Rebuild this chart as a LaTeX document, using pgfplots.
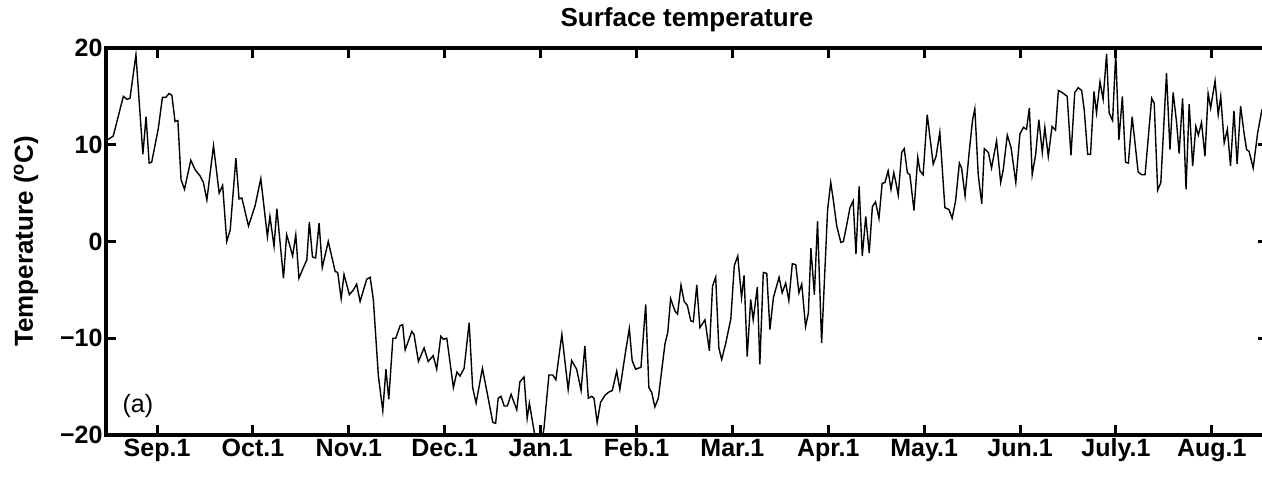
\documentclass[border=0pt]{standalone}
\usepackage{fontspec}
\setmainfont{Liberation Sans}
\usepackage{pgfplots}
\pgfplotsset{compat=1.18}
\usetikzlibrary{calc}
\begin{document}
\begin{tikzpicture}
\begin{axis}[
  scale only axis,
  width=1162pt, height=387pt,
  xmin=-16.2, xmax=352.4, ymin=-20, ymax=20,
  xtick={0,30.417,60.833,91.25,121.667,152.083,182.5,212.917,243.333,273.75,304.167,334.583},
  xticklabels={Sep.1,Oct.1,Nov.1,Dec.1,Jan.1,Feb.1,Mar.1,Apr.1,May.1,Jun.1,July.1,Aug.1},
  ytick={-20,-10,0,10,20},
  yticklabels={−20,−10,0,10,20},
  tick align=inside,
  major tick length=10pt,
  tick style={black, line width=3pt},
  axis line style={line width=3.5pt},
  ticklabel style={font=\bfseries\fontsize{25}{25}\selectfont},
  xticklabel style={text height=18pt, text depth=5pt},
  title={Surface temperature},
  title style={at={(0.5,1)}, anchor=base, yshift=15.5pt, font=\bfseries\fontsize{26}{26}\selectfont},
  ylabel={Temperature (\textsuperscript{o}C)},
  ylabel style={at={(axis description cs:-0.0688,0.5)}, anchor=center, font=\bfseries\fontsize{26}{26}\selectfont},
]
\addplot[black, line width=1.4pt, mark=none] table {
x y
-16.2 10.4
-13.9 10.9
-10.7 15.0
-9.6 14.7
-8.6 14.8
-6.7 19.3
-4.5 9.0
-3.5 12.9
-2.5 8.1
-1.7 8.2
0.4 11.7
1.7 14.9
2.8 14.9
3.8 15.3
4.7 15.1
5.7 12.4
6.6 12.5
7.6 6.4
8.7 5.4
10.7 8.4
12.1 7.4
13.6 6.8
14.7 6.1
15.8 4.3
17.9 9.9
19.7 5.0
20.8 5.8
22.1 0.0
23.2 1.2
25.0 8.6
26.0 4.4
26.9 4.5
29.0 1.6
31.1 3.7
32.9 6.5
35.0 0.5
35.8 2.6
37.1 -0.5
38.0 3.4
40.1 -3.8
41.1 0.7
42.0 -0.3
43.0 -1.5
44.0 0.7
45.0 -3.8
46.4 -2.7
47.5 -1.9
48.3 2.0
49.3 -1.6
50.3 -1.7
51.4 1.9
52.4 -2.7
54.3 0.0
56.5 -3.1
57.3 -3.2
58.4 -5.9
59.3 -3.4
61.0 -5.5
62.3 -5.0
63.3 -4.4
64.4 -6.2
66.5 -3.9
67.6 -3.7
68.6 -6.0
70.2 -13.9
71.6 -17.5
72.6 -13.2
73.5 -16.3
74.8 -10.0
75.7 -10.0
77.1 -8.7
77.9 -8.6
78.7 -11.2
80.8 -9.3
81.5 -9.6
82.9 -12.4
84.7 -11.0
86.0 -12.4
87.6 -11.8
88.7 -13.2
90.0 -9.8
90.8 -10.1
91.9 -10.0
94.0 -15.1
95.1 -13.5
96.1 -13.9
97.4 -13.1
99.0 -8.4
100.1 -15.1
101.2 -16.7
103.2 -13.1
104.8 -15.8
106.5 -18.7
107.4 -18.8
108.2 -16.2
109.1 -16.0
110.1 -17.0
111.1 -17.0
112.3 -15.8
114.1 -17.4
115.1 -14.5
116.4 -14.0
117.4 -18.3
118.1 -16.7
119.7 -19.8
120.8 -21.0
121.8 -21.0
122.7 -19.4
124.3 -13.8
125.5 -13.8
126.5 -14.3
128.4 -9.6
130.4 -15.3
131.5 -12.3
133.1 -13.2
134.5 -15.4
135.7 -10.8
136.8 -16.2
137.9 -16.0
138.6 -16.2
139.6 -18.7
140.7 -16.6
142.1 -15.9
143.1 -15.6
144.4 -15.4
145.8 -13.4
146.8 -15.3
148.7 -11.2
149.8 -9.0
150.7 -12.3
151.8 -13.2
153.5 -13.0
155.0 -6.5
156.0 -15.1
156.9 -15.6
157.9 -17.1
159.0 -16.2
161.1 -10.6
162.0 -9.4
162.9 -5.9
164.3 -7.2
165.1 -7.5
166.2 -4.5
167.2 -6.2
168.2 -6.6
169.3 -8.2
170.1 -8.3
171.2 -4.5
172.2 -8.9
173.8 -8.1
175.2 -11.3
176.2 -4.6
177.2 -3.7
178.2 -11.0
179.1 -12.2
180.4 -10.5
182.0 -8.0
183.1 -2.5
184.2 -1.5
185.4 -5.8
186.2 -3.5
187.2 -11.9
188.3 -6.0
189.1 -8.1
190.4 -4.7
191.2 -12.7
192.3 -3.2
193.4 -3.3
194.4 -9.1
195.5 -5.8
197.3 -3.7
198.3 -5.3
199.4 -4.3
200.4 -6.1
201.5 -2.3
202.6 -2.4
203.6 -5.3
204.5 -4.4
205.7 -8.8
206.6 -7.4
207.4 -0.7
208.5 -5.5
209.5 2.1
210.8 -10.5
212.7 3.3
213.7 6.1
214.5 4.3
215.6 1.6
216.9 -0.1
217.7 0.0
218.7 1.6
219.8 3.5
220.8 4.2
221.7 -1.3
222.7 5.7
223.7 -1.5
224.8 2.6
225.9 -1.2
226.9 3.6
227.9 4.1
229.0 2.4
230.0 6.0
230.9 6.1
231.9 7.3
232.8 5.4
233.7 7.1
234.3 6.2
235.1 4.8
236.2 9.2
237.0 9.6
238.0 7.1
238.8 6.9
240.1 3.2
241.3 8.7
242.0 7.3
243.0 6.9
244.3 13.1
246.2 8.0
247.1 8.8
248.3 11.3
249.9 3.5
251.2 3.3
252.2 2.4
253.3 4.2
254.5 8.1
255.2 7.6
256.3 4.7
257.6 9.2
258.7 12.6
259.4 13.7
260.5 6.8
261.6 3.9
262.4 9.6
263.7 9.2
264.7 7.6
266.3 10.4
267.6 6.1
268.4 7.4
269.7 11.0
270.9 9.7
272.4 6.1
273.7 11.1
274.8 11.8
275.8 11.6
276.7 13.8
277.6 6.9
278.7 9.0
279.7 12.6
280.8 9.2
281.6 11.8
282.7 8.8
283.9 11.9
285.0 11.5
285.9 15.6
287.1 15.4
288.7 15.0
289.9 8.9
291.1 15.4
292.2 15.9
293.3 15.6
294.1 13.6
295.2 9.0
296.1 9.0
297.2 15.5
298.0 13.3
299.1 16.5
300.1 14.7
301.2 19.4
302.0 13.3
303.1 12.5
304.1 19.4
305.1 10.5
306.2 15.0
307.2 8.2
308.1 8.1
309.3 12.9
311.2 7.2
312.3 6.9
313.4 6.9
315.5 14.8
316.3 14.3
317.4 5.3
318.4 6.1
320.2 17.4
321.3 9.5
322.3 15.4
323.4 12.3
324.2 9.1
325.3 14.8
326.4 5.4
327.4 14.2
328.5 7.8
329.5 11.9
330.3 11.0
331.3 12.3
332.4 8.8
333.4 15.3
334.2 13.8
335.6 16.6
336.6 13.1
337.4 15.0
338.5 10.2
339.5 11.6
340.5 7.8
341.6 13.5
342.6 8.0
343.7 14.0
344.8 11.2
345.6 9.5
346.4 9.3
347.7 7.6
349.1 11.2
350.4 13.5
352.4 15.0
};
\node[anchor=base west, font=\fontsize{25}{25}\selectfont] at (axis cs:-12.05,-17.7) {(a)};
\end{axis}
\pgfresetboundingbox
\useasboundingbox ($(current axis.south west)+(-106pt,-41pt)$) rectangle ($(current axis.north east)+(-6pt,48pt)$);
\end{tikzpicture}
\end{document}
